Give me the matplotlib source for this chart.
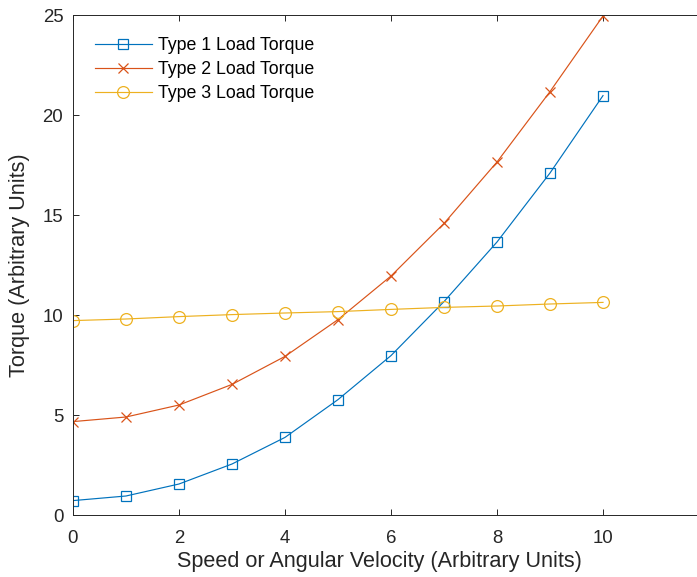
import matplotlib
matplotlib.use("Agg")
import matplotlib.pyplot as plt

plt.rcParams['font.family'] = ['Liberation Sans', 'DejaVu Sans']

speed = [0, 1, 2, 3, 4, 5, 6, 7, 8, 9, 10]
type1 = [0.72, 0.95, 1.55, 2.55, 3.88, 5.77, 7.97, 10.67, 13.65, 17.1, 20.97]
type2 = [4.67, 4.9, 5.5, 6.53, 7.93, 9.77, 11.95, 14.58, 17.65, 21.17, 24.95]
type3 = [9.72, 9.8, 9.92, 10.02, 10.1, 10.17, 10.28, 10.38, 10.45, 10.55, 10.63]
labels = ['Type 1 Load Torque', 'Type 2 Load Torque', 'Type 3 Load Torque']
xticks = [0, 2, 4, 6, 8, 10]
yticks = [0, 5, 10, 15, 20, 25]

c1, c2, c3 = '#0072BD', '#D95319', '#EDB120'

fig = plt.figure(figsize=(6.97, 5.77), dpi=100)
ax = fig.add_axes([73/697, 62/577, (709-73)/697, 500/577])

ax.plot(speed, type1, '-s', color=c1, lw=0.85, ms=7, mfc='none', mew=0.9, label=labels[0])
ax.plot(speed, type2, '-x', color=c2, lw=0.85, ms=7, mew=0.9, label=labels[1])
ax.plot(speed, type3, '-o', color=c3, lw=0.85, ms=8.5, mfc='none', mew=0.9, label=labels[2])

ax.set_xlim(0, 12)
ax.set_ylim(0, 25)
ax.set_xticks(xticks)
ax.set_yticks(yticks)
ax.tick_params(direction='in', top=True, right=True, labelsize=13.4, colors='#262626',
               length=4, width=0.7)
ax.tick_params(axis='x', pad=11)
ax.tick_params(axis='y', pad=7)
for s in ax.spines.values():
    s.set_color('#262626')
    s.set_linewidth(0.7)

ax.set_xlabel('Speed or Angular Velocity (Arbitrary Units)', fontsize=15.6, color='#262626')
ax.xaxis.set_label_coords(306/636, -0.072)
ax.set_ylabel('Torque (Arbitrary Units)', fontsize=15.6, color='#262626', labelpad=9)

ax.legend(loc='upper left', frameon=False, fontsize=12.8, bbox_to_anchor=(0.0346, 0.956),
          borderaxespad=0, borderpad=0,
          handlelength=3.2, handletextpad=0.35, labelspacing=0.39)

fig.savefig('out.png', dpi=100)
